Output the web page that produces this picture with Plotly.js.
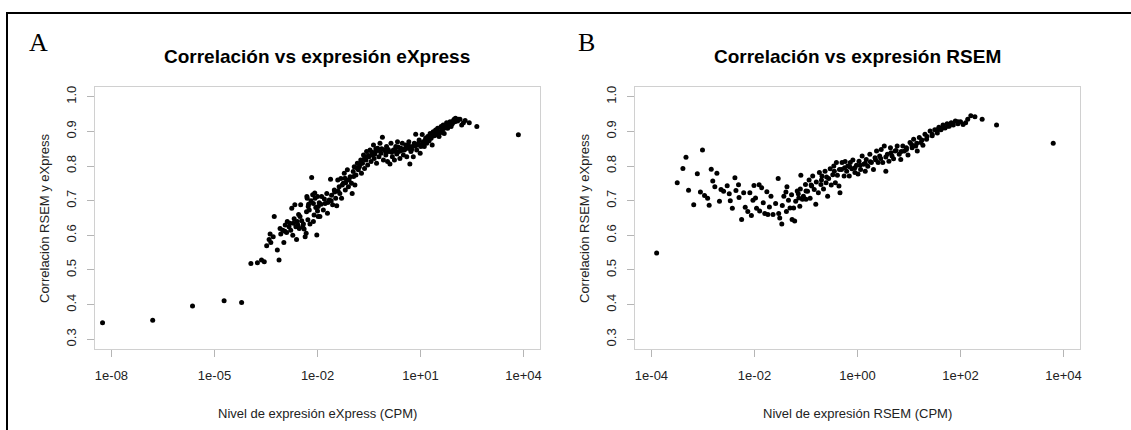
<!DOCTYPE html>
<html>
<head>
<meta charset="utf-8">
<script src="https://cdn.plot.ly/plotly-3.0.1.min.js"></script>
<style>
html,body{margin:0;padding:0;background:#fff;}
#chart{width:1131px;height:430px;}
</style>
</head>
<body>
<div id="chart"></div>
<script>
// ---------- Panel A: eXpress expression (log10 CPM) vs correlation ----------
const panelA_log10CPM = [
-8.26,-6.80,-5.64,-4.72,-4.21,
-3.94,-3.75,-3.63,-3.55,-3.12,-3.48,-3.41,-3.36,-3.26,-3.17,-3.38,-3.29,-3.09,-3.07,-3.01,
-2.98,-2.94,-2.90,-2.83,-2.80,-2.75,-2.70,-2.66,-2.63,-2.61,-2.59,-2.53,-2.51,-2.49,-2.43,
-2.41,-2.36,-2.33,-2.32,-2.30,-2.24,-2.22,-2.17,-2.14,-2.10,-2.07,-2.02,-2.00,-1.95,-1.98,
-2.95,-2.88,-2.78,-2.72,-2.68,-2.57,-2.55,-2.46,-2.39,-2.28,-2.26,-2.19,-2.12,-2.05,-2.08,
-2.31,-2.27,-2.12,-1.98,-1.93,-1.88,-1.83,-1.78,-1.73,-1.71,-1.66,-1.62,-1.59,-1.56,-1.51,
-1.47,-1.44,-1.41,-1.37,-1.35,-1.32,-1.30,-1.25,-1.22,-1.19,-1.15,-1.13,-1.10,-1.05,-1.01,
-0.99,-0.96,-0.93,-0.91,-0.88,-0.84,-0.81,-0.78,-0.74,-0.72,-0.69,-0.66,-0.63,-0.59,-0.57,
-0.54,-0.50,-0.47,-0.44,-0.40,-0.37,-0.35,-0.31,-0.28,-0.25,-0.21,-0.18,-0.15,-0.11,-0.08,
-0.05,-0.01,0.01,0.04,0.08,0.11,0.14,0.18,0.21,0.24,0.28,0.31,0.33,0.37,0.40,
0.43,0.47,0.50,0.53,0.57,0.60,0.63,0.66,0.69,0.72,0.76,0.79,0.82,0.86,0.89,
0.92,0.96,0.99,1.01,1.05,1.08,1.11,1.15,1.18,1.21,1.25,1.28,1.31,1.34,1.37,
1.40,1.44,1.47,1.50,1.54,1.57,1.60,1.64,1.66,1.69,1.73,1.76,1.79,1.83,1.86,
1.89,1.93,1.96,1.98,2.02,2.05,2.10,2.15,2.20,2.30,2.42,2.64,3.85,
-0.95,-0.86,-0.76,-0.64,-0.52,-0.42,-0.33,-0.23,-0.13,-0.03,0.06,0.16,0.26,0.35,0.45,
0.55,0.65,0.74,0.84,0.94,1.03,1.13,1.23,1.33,1.42,1.52,1.62,1.71,1.81,1.91,
2.00,-1.40,-1.28,-1.18,-1.08,-1.60,-1.70,-1.80,-1.90,-2.00,
0.30,0.70,1.10,1.50,1.90,2.08,2.25,-0.60,-0.30,0.00,-1.20,-1.50
];
const panelA_corr = [
0.348,0.355,0.396,0.411,0.406,
0.519,0.521,0.529,0.524,0.529,0.570,0.588,0.579,0.654,0.558,0.604,0.596,0.620,0.604,0.615,
0.579,0.630,0.608,0.625,0.635,0.678,0.635,0.688,0.625,0.588,0.640,0.620,0.654,0.688,0.625,
0.633,0.596,0.606,0.668,0.707,0.673,0.633,0.767,0.717,0.659,0.707,0.601,0.712,0.694,0.654,
0.612,0.640,0.615,0.600,0.648,0.630,0.660,0.642,0.618,0.645,0.690,0.700,0.640,0.680,0.722,
0.712,0.683,0.692,0.683,0.654,0.712,0.673,0.692,0.721,0.664,0.702,0.762,0.716,0.688,0.731,
0.707,0.685,0.760,0.740,0.721,0.764,0.707,0.750,0.779,0.731,0.760,0.789,0.740,0.769,0.750,
0.721,0.784,0.798,0.745,0.774,0.808,0.789,0.798,0.817,0.779,0.808,0.832,0.793,0.817,0.842,
0.803,0.827,0.846,0.813,0.832,0.861,0.822,0.842,0.808,0.851,0.827,0.866,0.837,0.883,0.817,
0.846,0.832,0.856,0.813,0.842,0.806,0.866,0.827,0.846,0.817,0.856,0.835,0.870,0.842,0.822,
0.851,0.866,0.832,0.846,0.861,0.827,0.851,0.870,0.806,0.842,0.856,0.827,0.866,0.892,0.846,
0.861,0.875,0.837,0.856,0.891,0.870,0.856,0.880,0.866,0.885,0.873,0.894,0.880,0.861,0.899,
0.887,0.904,0.890,0.909,0.885,0.896,0.914,0.904,0.918,0.894,0.912,0.925,0.909,0.918,0.928,
0.914,0.923,0.931,0.935,0.938,0.933,0.935,0.935,0.918,0.931,0.925,0.914,0.890,
0.770,0.795,0.805,0.820,0.830,0.840,0.835,0.845,0.850,0.845,0.848,0.840,0.848,0.855,0.845,
0.850,0.860,0.848,0.858,0.866,0.862,0.872,0.880,0.888,0.893,0.898,0.905,0.910,0.916,0.922,
0.928,0.728,0.745,0.752,0.760,0.700,0.695,0.705,0.690,0.670,
0.840,0.850,0.865,0.895,0.920,0.930,0.925,0.825,0.850,0.840,0.765,0.725
];

// ---------- Panel B: RSEM expression (log10 CPM) vs correlation ----------
const panelB_log10CPM = [
-3.90,-3.50,-3.39,-3.33,-3.28,-3.18,-3.11,-3.05,-3.01,-2.97,-2.91,-2.88,-2.84,-2.81,-2.77,
-2.73,-2.68,-2.65,-2.60,-2.53,-2.49,-2.47,-2.43,-2.38,-2.36,-2.31,-2.30,-2.25,-2.21,-2.18,
-2.13,-2.09,-2.06,-2.03,-2.01,-1.98,-1.96,-1.91,-1.90,-1.86,-1.83,-1.80,-1.76,-1.74,-1.71,
-1.68,-1.64,-1.59,-1.54,-1.53,-1.51,-1.47,-1.46,-1.43,-1.39,-1.38,-1.37,-1.34,-1.31,-1.28,
-1.27,-1.24,-1.22,-1.20,-1.17,-1.14,-1.12,-1.11,-1.10,-1.07,-1.05,-1.01,-1.00,-0.97,-0.94,
-0.92,-0.89,-0.87,-0.84,-0.81,-0.80,-0.76,-0.74,-0.71,-0.69,-0.66,-0.63,-0.61,-0.58,-0.56,
-0.53,-0.51,-0.48,-0.46,-0.43,-0.41,-0.39,-0.36,-0.34,-0.31,-0.30,-0.26,-0.24,-0.21,-0.19,
-0.16,-0.14,-0.11,-0.09,-0.05,-0.02,0.01,0.03,0.06,0.09,0.12,0.15,0.17,0.20,0.24,
0.27,0.31,0.34,0.37,0.40,0.43,0.46,0.49,0.52,0.55,0.58,0.61,0.64,0.67,0.70,
0.73,0.77,0.81,0.84,0.88,0.91,0.95,0.98,1.02,1.06,1.09,1.13,1.16,1.20,1.23,
1.27,1.31,1.34,1.41,1.45,1.50,1.55,1.58,1.62,1.66,1.70,1.74,1.78,1.82,1.86,
1.90,1.95,2.00,2.05,2.10,2.14,2.20,2.28,2.42,2.70,3.80,
-0.45,-0.35,-0.25,-0.15,-0.05,0.05,0.15,0.25,0.35,0.45,0.55,0.65,0.75,0.85,0.95,
1.05,1.15,1.25,1.35,1.45,1.55,1.65,1.75,1.85,1.95,-0.70,-0.60,-0.90,-1.00,-1.15
];
const panelB_corr = [
0.549,0.752,0.793,0.825,0.730,0.688,0.778,0.725,0.846,0.715,0.707,0.687,0.791,0.757,0.740,
0.779,0.698,0.732,0.727,0.743,0.720,0.700,0.678,0.766,0.729,0.746,0.709,0.646,0.723,0.681,
0.669,0.723,0.657,0.701,0.744,0.708,0.678,0.746,0.670,0.737,0.694,0.663,0.726,0.660,0.682,
0.713,0.660,0.692,0.764,0.663,0.650,0.633,0.686,0.713,0.725,0.669,0.740,0.701,0.679,0.717,
0.646,0.679,0.641,0.698,0.728,0.708,0.684,0.734,0.773,0.704,0.713,0.747,0.704,0.727,0.760,
0.707,0.742,0.771,0.732,0.690,0.754,0.723,0.781,0.747,0.771,0.734,0.785,0.752,0.713,0.764,
0.792,0.745,0.775,0.800,0.752,0.810,0.773,0.742,0.723,0.790,0.810,0.771,0.813,0.785,0.800,
0.771,0.810,0.792,0.817,0.781,0.802,0.777,0.814,0.790,0.829,0.805,0.785,0.819,0.799,0.834,
0.810,0.790,0.824,0.843,0.810,0.829,0.848,0.810,0.858,0.785,0.834,0.814,0.853,0.829,0.821,
0.843,0.858,0.834,0.819,0.858,0.843,0.853,0.832,0.868,0.853,0.877,0.858,0.843,0.882,0.868,
0.860,0.892,0.877,0.901,0.887,0.905,0.895,0.912,0.905,0.918,0.910,0.922,0.915,0.925,0.918,
0.930,0.922,0.928,0.920,0.925,0.935,0.945,0.942,0.935,0.918,0.866,
0.785,0.790,0.795,0.798,0.795,0.802,0.808,0.812,0.818,0.822,0.826,0.838,0.845,0.842,0.848,
0.862,0.866,0.875,0.885,0.892,0.905,0.910,0.915,0.922,0.928,0.760,0.768,0.745,0.728,0.720
];

// ---------- Axis ticks ----------
const panelA_tickVals = [1e-8, 1e-5, 1e-2, 1e1, 1e4];
const panelA_tickText = ['1e-08', '1e-05', '1e-02', '1e+01', '1e+04'];
const panelB_tickVals = [1e-4, 1e-2, 1e0, 1e2, 1e4];
const panelB_tickText = ['1e-04', '1e-02', '1e+00', '1e+02', '1e+04'];
const corrTickVals = [0.3, 0.4, 0.5, 0.6, 0.7, 0.8, 0.9, 1.0];
const corrTickText = ['0.3', '0.4', '0.5', '0.6', '0.7', '0.8', '0.9', '1.0'];

const W = 1131, H = 430;
const px = x => x / W;
const py = y => 1 - y / H;

const marker = {color: '#000000', size: 5, line: {width: 0}};

const traces = [
  {x: panelA_log10CPM.map(v => Math.pow(10, v)), y: panelA_corr, type: 'scatter', mode: 'markers',
   marker: marker, xaxis: 'x', yaxis: 'y', hoverinfo: 'skip'},
  {x: panelB_log10CPM.map(v => Math.pow(10, v)), y: panelB_corr, type: 'scatter', mode: 'markers',
   marker: marker, xaxis: 'x2', yaxis: 'y2', hoverinfo: 'skip'}
];

const FONT = 'Liberation Sans, Arial, Helvetica, sans-serif';
const tickFont = {family: FONT, size: 13, color: '#222'};

function xAxis(domain, range, vals, text, anchor) {
  return {
    domain: domain, type: 'log', range: range, anchor: anchor,
    tickmode: 'array', tickvals: vals, ticktext: text,
    ticks: 'outside', ticklen: 7, tickwidth: 1, tickcolor: '#b5b5b5',
    ticklabelstandoff: 7,
    showline: true, mirror: true, linecolor: '#d0d0d0', linewidth: 1,
    showgrid: false, zeroline: false, tickfont: tickFont, fixedrange: true
  };
}
function yAxis(anchor) {
  return {
    domain: [py(349), py(87)], range: [0.272, 1.028], anchor: anchor,
    tickmode: 'array', tickvals: corrTickVals, ticktext: corrTickText, tickangle: -90,
    ticks: 'outside', ticklen: 7, tickwidth: 1, tickcolor: '#b5b5b5',
    ticklabelstandoff: 6,
    showline: true, mirror: true, linecolor: '#d0d0d0', linewidth: 1,
    showgrid: false, zeroline: false, tickfont: tickFont, fixedrange: true
  };
}

const layout = {
  width: W, height: H,
  margin: {l: 0, r: 0, t: 0, b: 0, pad: 0},
  paper_bgcolor: '#ffffff', plot_bgcolor: '#ffffff',
  showlegend: false,
  xaxis: xAxis([px(95), px(540)], [-8.48, 4.48], panelA_tickVals, panelA_tickText, 'y'),
  yaxis: yAxis('x'),
  xaxis2: xAxis([px(635), px(1080)], [-4.32, 4.32], panelB_tickVals, panelB_tickText, 'y2'),
  yaxis2: yAxis('x2'),
  shapes: [
    {type: 'line', xref: 'paper', yref: 'paper', x0: px(6), x1: 1, y0: py(13), y1: py(13),
     line: {color: '#000', width: 2}},
    {type: 'line', xref: 'paper', yref: 'paper', x0: px(7), x1: px(7), y0: py(12), y1: 0,
     line: {color: '#000', width: 2}}
  ],
  annotations: [
    {text: 'A', xref: 'paper', yref: 'paper', x: px(38), y: py(43), showarrow: false,
     xanchor: 'center', yanchor: 'middle', font: {family: 'Liberation Serif, Times New Roman, serif', size: 26, color: '#000'}},
    {text: 'B', xref: 'paper', yref: 'paper', x: px(586), y: py(43), showarrow: false,
     xanchor: 'center', yanchor: 'middle', font: {family: 'Liberation Serif, Times New Roman, serif', size: 26, color: '#000'}},
    {text: '<b>Correlación vs expresión eXpress</b>', xref: 'paper', yref: 'paper', x: px(317.5), y: py(57),
     showarrow: false, xanchor: 'center', yanchor: 'middle', font: {family: FONT, size: 19, color: '#000'}},
    {text: '<b>Correlación vs expresión RSEM</b>', xref: 'paper', yref: 'paper', x: px(857.5), y: py(57),
     showarrow: false, xanchor: 'center', yanchor: 'middle', font: {family: FONT, size: 19, color: '#000'}},
    {text: 'Nivel de expresión eXpress (CPM)', xref: 'paper', yref: 'paper', x: px(317.5), y: py(413),
     showarrow: false, xanchor: 'center', yanchor: 'middle', font: {family: FONT, size: 13, color: '#222'}},
    {text: 'Nivel de expresión RSEM (CPM)', xref: 'paper', yref: 'paper', x: px(857.5), y: py(413),
     showarrow: false, xanchor: 'center', yanchor: 'middle', font: {family: FONT, size: 13, color: '#222'}},
    {text: 'Correlación RSEM y eXpress', xref: 'paper', yref: 'paper', x: px(44), y: py(218), textangle: -90,
     showarrow: false, xanchor: 'center', yanchor: 'middle', font: {family: FONT, size: 13, color: '#222'}},
    {text: 'Correlación RSEM y eXpress', xref: 'paper', yref: 'paper', x: px(584), y: py(218), textangle: -90,
     showarrow: false, xanchor: 'center', yanchor: 'middle', font: {family: FONT, size: 13, color: '#222'}}
  ]
};

Plotly.newPlot('chart', traces, layout, {displayModeBar: false, staticPlot: true});
</script>
</body>
</html>
